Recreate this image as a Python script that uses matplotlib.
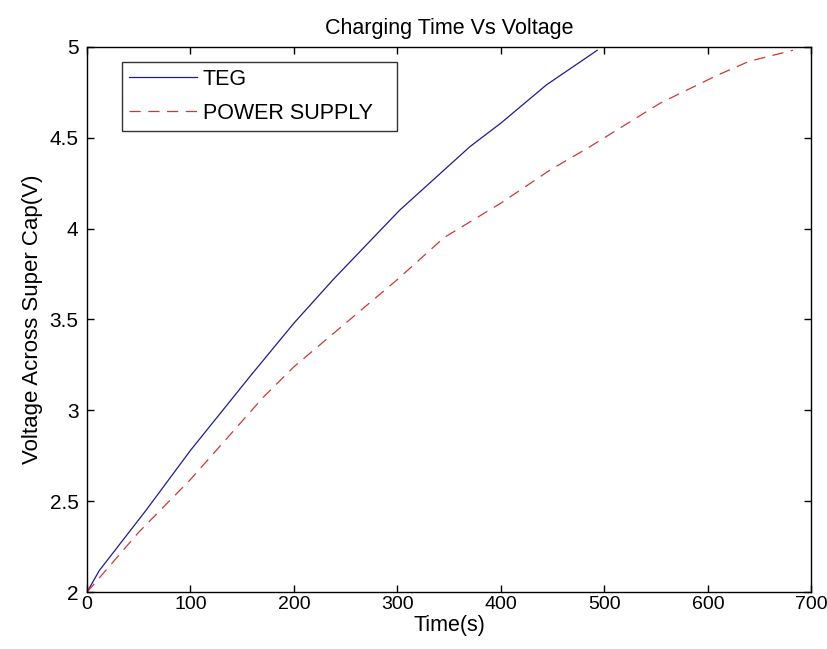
import numpy as np
import matplotlib.pyplot as plt

# values
teg_time = [0, 12, 57, 100, 158, 200, 238, 302, 370, 400, 444, 493]
teg_volt = [2.0, 2.12, 2.45, 2.78, 3.19, 3.48, 3.72, 4.10, 4.45, 4.58, 4.79, 4.98]

ps_time = [0, 50, 100, 170, 200, 300, 345, 400, 447, 486, 554, 608, 640, 682]
ps_volt = [2.0, 2.33, 2.62, 3.07, 3.24, 3.72, 3.95, 4.14, 4.32, 4.45, 4.69, 4.84, 4.92, 4.98]

x_ticks = [0, 100, 200, 300, 400, 500, 600, 700]
y_ticks = [2, 2.5, 3, 3.5, 4, 4.5, 5]
y_labels = ['2', '2.5', '3', '3.5', '4', '4.5', '5']

plt.rcParams['font.family'] = ['Liberation Sans', 'DejaVu Sans']

fig = plt.figure(figsize=(8.28, 6.49), dpi=100)
ax = fig.add_axes([0.105, 0.0874, 0.875, 0.8407])

ax.plot(teg_time, teg_volt, '-', color='#1c1c94', linewidth=0.9, label='TEG')
ax.plot(ps_time, ps_volt, '--', color='#cc3838', linewidth=0.9, dashes=(9, 6),
        label='POWER SUPPLY')

ax.set_xlim(0, 700)
ax.set_ylim(2, 5)
ax.set_xticks(x_ticks)
ax.set_xticklabels([str(t) for t in x_ticks], fontsize=14)
ax.set_yticks(y_ticks)
ax.set_yticklabels(y_labels, fontsize=15)
ax.tick_params(direction='in', length=5, width=1, top=True, right=True)
ax.tick_params(axis='x', pad=3)
ax.tick_params(axis='y', pad=6)
for s in ax.spines.values():
    s.set_linewidth(1)

ax.set_xlabel('Time(s)', fontsize=15.5, labelpad=1)
ax.set_ylabel('Voltage Across Super Cap(V)', fontsize=16, labelpad=5)
ax.set_title('Charging Time Vs Voltage', fontsize=15.5, pad=9)

leg = ax.legend(loc='upper left', bbox_to_anchor=(0.048, 0.849, 0.38, 0.123),
                mode='expand', fontsize=15.5,
                frameon=True, fancybox=False, edgecolor='black',
                handlelength=3.2, handletextpad=0.25, borderpad=0.32,
                labelspacing=0.6, borderaxespad=0)
leg.get_frame().set_linewidth(1)

fig.savefig('out.png', dpi=100)
